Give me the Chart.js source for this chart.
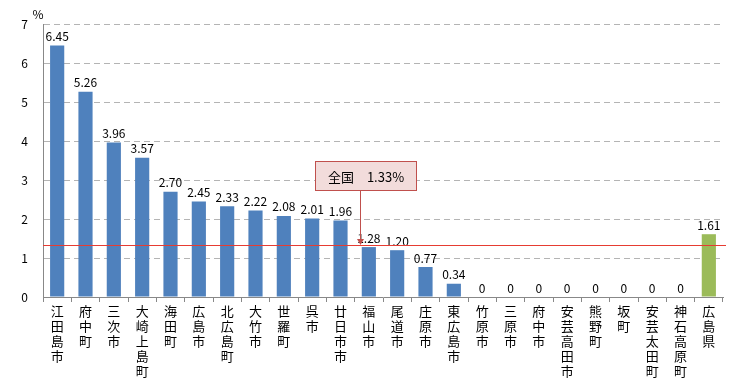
<!DOCTYPE html>
<html><head><meta charset="utf-8">
<script src="https://cdn.jsdelivr.net/npm/chart.js@4/dist/chart.umd.min.js"></script>
<style>html,body{margin:0;padding:0;background:#fff}#wrap{width:756px;height:379px;position:relative}</style>
</head><body><div id="wrap"><canvas id="c" width="756" height="379"></canvas></div>
<script>
const categories = ["江田島市","府中町","三次市","大崎上島町","海田町","広島市","北広島町","大竹市","世羅町","呉市","廿日市市","福山市","尾道市","庄原市","東広島市","竹原市","三原市","府中市","安芸高田市","熊野町","坂町","安芸太田町","神石高原町","広島県"];
const values = [6.45,5.26,3.96,3.57,2.70,2.45,2.33,2.22,2.08,2.01,1.96,1.28,1.20,0.77,0.34,0,0,0,0,0,0,0,0,1.61];
const nationalValue = 1.33;
const nationalLabel = "全国　1.33%";
const yTicks = [0,1,2,3,4,5,6,7];
const unitLabel = "%";

const colors = categories.map((c,i)=> i===categories.length-1 ? "#9BBB59" : "#4F81BD");
const FONT = "'Noto Sans CJK JP','DejaVu Sans',sans-serif";

const overlay = {
  id:'overlay',
  afterDraw(chart){
    const ctx = chart.ctx, x = chart.scales.x, y = chart.scales.y, a = chart.chartArea;
    const meta = chart.getDatasetMeta(0);
    ctx.save();
    ctx.setLineDash([]);
    ctx.globalAlpha = 1;
    ctx.font = "12px " + FONT;
    ctx.fillStyle = "#000";
    ctx.textAlign = "center";
    ctx.textBaseline = "bottom";
    meta.data.forEach((bar,i)=>{
      const v = values[i];
      const t = v === 0 ? "0" : v.toFixed(2);
      ctx.fillText(t, bar.x, bar.y - 3);
    });
    const ly = Math.round(y.getPixelForValue(nationalValue));
    ctx.fillStyle = "rgb(230,60,50)";
    ctx.fillRect(a.left, ly, a.right + 3 - a.left, 1);
    const axi = Math.round(x.getPixelForValue(10.7));
    const ax = axi + 0.5;
    const boxTop = Math.round(y.getPixelForValue(3.5)) + 0.5;
    const boxH = 29, boxW = 101;
    const boxLeft = Math.round(ax - 46) + 0.5;
    ctx.fillStyle = "#C0504D";
    ctx.fillRect(axi, boxTop + boxH, 1, ly - (boxTop + boxH) - 3);
    ctx.beginPath(); ctx.moveTo(ax - 3.5, ly - 6); ctx.lineTo(ax + 3.5, ly - 6); ctx.lineTo(ax, ly); ctx.closePath(); ctx.fill();
    ctx.fillStyle = "#F2DCDB";
    ctx.strokeStyle = "#C0504D";
    ctx.lineWidth = 1;
    ctx.fillRect(boxLeft, boxTop, boxW, boxH);
    ctx.strokeRect(boxLeft, boxTop, boxW, boxH);
    ctx.fillStyle = "#000";
    ctx.font = "13px " + FONT;
    ctx.textAlign = "center"; ctx.textBaseline = "middle";
    ctx.fillText(nationalLabel, boxLeft + boxW/2, boxTop + boxH/2 + 1);
    ctx.font = "12px " + FONT;
    ctx.fillText(unitLabel, 38, 14);
    ctx.restore();
  }
};

new Chart(document.getElementById('c'), {
  type:'bar',
  data:{ labels: categories.map(s=>Array.from(s)),
    datasets:[{ data: values, backgroundColor: colors, barPercentage:0.5, categoryPercentage:1.0 }]},
  options:{
    responsive:false, animation:false,
    layout:{ padding:{ top:24, right:33, left:0, bottom:0 } },
    plugins:{ legend:{display:false}, tooltip:{enabled:false} },
    scales:{
      x:{
        grid:{ display:true, drawOnChartArea:false, drawTicks:true, tickLength:5, color:"#888", offset:true },
        border:{ display:true, color:"#888", width:1 },
        ticks:{ color:"#000", font:{ family:FONT, size:13, lineHeight:1.15 }, maxRotation:0, minRotation:0, autoSkip:false, padding:2 },
        afterFit(s){ s.height = 82; }
      },
      y:{
        min:0, max:7,
        afterBuildTicks(s){ s.ticks = yTicks.map(v=>({value:v})); },
        grid:{ color:"#B4B4B4", drawTicks:false, lineWidth:1 },
        border:{ display:true, color:"#888", width:1, dash:[6,4] },
        ticks:{ color:"#000", font:{ family:FONT, size:12 }, padding:15 },
        afterFit(s){ s.width = 43; }
      }
    }
  },
  plugins:[overlay]
});
</script></body></html>
